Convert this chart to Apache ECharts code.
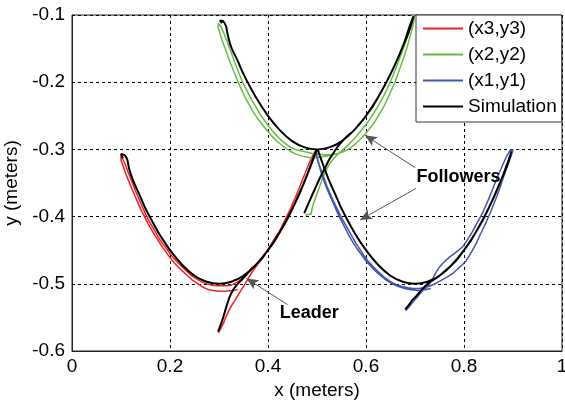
<!DOCTYPE html>
<html>
<head>
<meta charset="utf-8">
<script src="https://cdn.jsdelivr.net/npm/echarts@6/dist/echarts.min.js"></script>
<style>
html,body{margin:0;padding:0;background:#fff;}
#chart{width:565px;height:400px;}
</style>
</head>
<body>
<div id="chart"></div>
<script>
// ---------- data ----------
const seriesNames = ['(x3,y3)', '(x2,y2)', '(x1,y1)', 'Simulation'];
const xTickValues = [0, 0.2, 0.4, 0.6, 0.8, 1];
const xTickLabels = ['0', '0.2', '0.4', '0.6', '0.8', '1'];
const yTickValues = [-0.6, -0.5, -0.4, -0.3, -0.2, -0.1];
const yTickLabels = ['-0.6', '-0.5', '-0.4', '-0.3', '-0.2', '-0.1'];
const xAxisTitle = 'x (meters)';
const yAxisTitle = 'y (meters)';

// measured leader (red)
const measX3 = [
 [0.299,-0.573],[0.304,-0.566],[0.309,-0.559],[0.313,-0.551],[0.318,-0.543],[0.323,-0.536],[0.328,-0.530],[0.333,-0.524],
 [0.338,-0.518],[0.343,-0.512],[0.348,-0.506],[0.353,-0.500],[0.358,-0.494],[0.363,-0.488],[0.368,-0.482],[0.374,-0.476],
 [0.380,-0.470],[0.386,-0.464],[0.392,-0.458],[0.398,-0.451],[0.404,-0.444],[0.410,-0.437],[0.416,-0.430],[0.422,-0.423],
 [0.428,-0.415],[0.434,-0.406],[0.440,-0.397],[0.446,-0.388],[0.452,-0.378],[0.458,-0.368],[0.464,-0.357],[0.470,-0.346],
 [0.476,-0.335],[0.482,-0.324],[0.488,-0.314],[0.494,-0.305],[0.498,-0.302],
 [0.494,-0.311],[0.489,-0.320],[0.484,-0.330],[0.478,-0.341],[0.472,-0.352],[0.466,-0.362],[0.460,-0.372],[0.454,-0.382],
 [0.447,-0.392],[0.440,-0.402],[0.433,-0.411],[0.426,-0.420],[0.419,-0.429],[0.412,-0.437],[0.405,-0.445],[0.398,-0.452],
 [0.390,-0.459],[0.382,-0.466],[0.374,-0.473],[0.366,-0.479],[0.358,-0.485],[0.350,-0.490],[0.342,-0.495],[0.334,-0.499],
 [0.325,-0.502],[0.315,-0.503],[0.305,-0.503],[0.295,-0.503],[0.285,-0.502],[0.275,-0.500],[0.265,-0.497],[0.255,-0.493],
 [0.246,-0.489],[0.237,-0.483],[0.228,-0.477],[0.219,-0.471],[0.210,-0.464],[0.202,-0.457],[0.194,-0.449],[0.186,-0.441],
 [0.178,-0.433],[0.171,-0.424],[0.164,-0.415],[0.157,-0.406],[0.150,-0.396],[0.144,-0.386],[0.138,-0.376],[0.132,-0.366],
 [0.126,-0.355],[0.120,-0.344],[0.114,-0.333],[0.109,-0.323],[0.104,-0.315],[0.100,-0.309],[0.097,-0.308],
 [0.100,-0.316],[0.104,-0.324],[0.108,-0.333],[0.113,-0.342],[0.118,-0.351],[0.123,-0.360],[0.129,-0.370],[0.135,-0.380],
 [0.141,-0.390],[0.148,-0.400],[0.155,-0.410],[0.162,-0.419],[0.169,-0.428],[0.177,-0.437],[0.185,-0.446],[0.193,-0.454],
 [0.201,-0.462],[0.209,-0.469],[0.218,-0.476],[0.227,-0.482],[0.236,-0.488],[0.245,-0.494],[0.255,-0.499],[0.265,-0.504],
 [0.276,-0.508],[0.288,-0.510],[0.300,-0.511],[0.313,-0.511],[0.326,-0.510],[0.338,-0.509]
];

// measured follower 2 (green)
const measX2 = [
 [0.476,-0.398],[0.482,-0.397],[0.488,-0.396],[0.490,-0.388],[0.493,-0.380],[0.497,-0.372],[0.501,-0.364],[0.505,-0.356],
 [0.509,-0.348],[0.513,-0.340],[0.518,-0.332],[0.523,-0.325],[0.529,-0.318],[0.536,-0.312],[0.544,-0.306],[0.552,-0.301],
 [0.560,-0.296],[0.568,-0.290],[0.576,-0.284],[0.584,-0.277],[0.592,-0.270],[0.600,-0.263],[0.607,-0.256],[0.614,-0.248],
 [0.621,-0.240],[0.628,-0.231],[0.635,-0.222],[0.642,-0.212],[0.648,-0.202],[0.654,-0.192],[0.660,-0.181],[0.666,-0.170],
 [0.672,-0.158],[0.678,-0.146],[0.684,-0.133],[0.690,-0.120],[0.695,-0.108],[0.699,-0.100],
 [0.697,-0.112],[0.693,-0.124],[0.688,-0.137],[0.683,-0.150],[0.677,-0.163],[0.671,-0.176],[0.665,-0.188],[0.659,-0.200],
 [0.652,-0.212],[0.645,-0.223],[0.638,-0.234],[0.630,-0.244],[0.622,-0.254],[0.614,-0.263],[0.605,-0.271],[0.596,-0.279],
 [0.587,-0.286],[0.578,-0.292],[0.568,-0.298],[0.558,-0.302],[0.548,-0.305],[0.537,-0.307],[0.526,-0.308],[0.514,-0.308],
 [0.502,-0.307],[0.490,-0.306],[0.478,-0.304],[0.466,-0.302],
 [0.455,-0.300],[0.444,-0.296],[0.433,-0.290],[0.422,-0.283],[0.412,-0.275],[0.402,-0.266],[0.393,-0.257],[0.384,-0.248],
 [0.376,-0.238],[0.368,-0.228],[0.361,-0.218],[0.354,-0.208],[0.347,-0.198],[0.341,-0.187],[0.335,-0.176],[0.329,-0.164],
 [0.323,-0.152],[0.317,-0.140],[0.311,-0.129],[0.305,-0.119],[0.299,-0.112],[0.295,-0.110],
 [0.298,-0.118],[0.302,-0.127],[0.306,-0.137],[0.311,-0.147],[0.316,-0.157],[0.321,-0.167],[0.327,-0.178],[0.333,-0.189],
 [0.339,-0.200],[0.346,-0.211],[0.353,-0.222],[0.361,-0.233],[0.369,-0.243],[0.378,-0.253],[0.388,-0.263],[0.398,-0.272],
 [0.409,-0.281],[0.420,-0.289],[0.432,-0.296],[0.444,-0.302],[0.457,-0.307],[0.470,-0.310],[0.484,-0.312],[0.498,-0.312],
 [0.512,-0.311],[0.526,-0.309],[0.538,-0.307]
];

// measured follower 1 (blue)
const measX1 = [
 [0.681,-0.540],[0.688,-0.534],[0.695,-0.528],[0.702,-0.522],[0.709,-0.516],[0.716,-0.510],[0.723,-0.505],[0.730,-0.500],
 [0.737,-0.491],[0.742,-0.484],[0.748,-0.477],[0.755,-0.471],[0.763,-0.465],[0.771,-0.460],[0.780,-0.455],[0.789,-0.450],
 [0.797,-0.445],[0.804,-0.438],[0.810,-0.431],[0.816,-0.424],[0.822,-0.416],[0.828,-0.408],[0.834,-0.400],[0.840,-0.391],
 [0.846,-0.381],[0.852,-0.371],[0.858,-0.360],[0.864,-0.349],[0.870,-0.338],[0.876,-0.328],[0.882,-0.318],[0.888,-0.309],
 [0.894,-0.302],[0.900,-0.300],
 [0.897,-0.308],[0.892,-0.318],[0.887,-0.328],[0.882,-0.338],[0.877,-0.349],[0.872,-0.360],[0.867,-0.370],[0.861,-0.381],
 [0.855,-0.392],[0.849,-0.402],[0.843,-0.412],[0.837,-0.421],[0.831,-0.430],[0.825,-0.440],[0.818,-0.449],[0.811,-0.458],
 [0.804,-0.466],[0.796,-0.472],[0.787,-0.478],[0.778,-0.484],[0.768,-0.489],[0.758,-0.493],[0.748,-0.497],[0.738,-0.501],
 [0.728,-0.504],[0.718,-0.506],[0.707,-0.507],[0.696,-0.507],[0.685,-0.506],[0.674,-0.504],
 [0.664,-0.502],[0.650,-0.497],[0.637,-0.490],[0.625,-0.482],[0.614,-0.474],[0.604,-0.466],[0.595,-0.457],[0.587,-0.448],
 [0.579,-0.439],[0.572,-0.430],[0.565,-0.421],[0.558,-0.412],[0.551,-0.403],[0.545,-0.394],[0.539,-0.385],[0.533,-0.376],
 [0.527,-0.366],[0.521,-0.356],[0.516,-0.346],[0.511,-0.336],[0.506,-0.326],[0.502,-0.316],[0.499,-0.307],[0.498,-0.302],
 [0.499,-0.309],[0.502,-0.318],[0.506,-0.328],[0.510,-0.338],[0.515,-0.348],[0.520,-0.358],[0.526,-0.368],[0.532,-0.378],
 [0.538,-0.388],[0.544,-0.398],[0.551,-0.408],[0.558,-0.418],[0.565,-0.428],[0.573,-0.438],[0.581,-0.447],[0.590,-0.456],
 [0.599,-0.465],[0.609,-0.473],[0.619,-0.481],[0.630,-0.488],[0.642,-0.495],[0.654,-0.500],[0.666,-0.504],[0.679,-0.507],
 [0.692,-0.509],[0.706,-0.510],[0.720,-0.509],[0.732,-0.507]
];

// simulated trajectories (black)
const simLeader = [
 [0.298,-0.571],[0.304,-0.560],[0.309,-0.549],[0.315,-0.534],[0.322,-0.519],[0.329,-0.509],[0.336,-0.502],[0.345,-0.495],
 [0.353,-0.489],[0.363,-0.480],[0.375,-0.472],[0.388,-0.462],[0.400,-0.450],[0.413,-0.437],[0.425,-0.422],[0.438,-0.406],
 [0.450,-0.388],[0.463,-0.368],[0.475,-0.347],[0.488,-0.323],[0.496,-0.307],[0.499,-0.300],
 [0.493,-0.312],[0.475,-0.347],[0.450,-0.388],[0.425,-0.422],[0.400,-0.450],[0.375,-0.472],[0.350,-0.488],[0.325,-0.497],
 [0.300,-0.500],[0.275,-0.497],[0.250,-0.488],[0.225,-0.472],[0.200,-0.450],[0.188,-0.437],[0.175,-0.422],[0.163,-0.406],
 [0.150,-0.388],[0.138,-0.368],[0.125,-0.347],[0.117,-0.330],[0.113,-0.316],[0.108,-0.309],[0.100,-0.307],[0.104,-0.313]
];
const simF2 = [
 [0.474,-0.395],[0.484,-0.378],[0.495,-0.360],[0.505,-0.344],[0.516,-0.328],[0.525,-0.315],[0.533,-0.306],[0.541,-0.297],
 [0.550,-0.289],[0.562,-0.280],[0.575,-0.272],[0.588,-0.261],[0.600,-0.250],[0.613,-0.237],[0.625,-0.222],[0.638,-0.205],
 [0.650,-0.188],[0.663,-0.168],[0.675,-0.147],[0.688,-0.124],[0.697,-0.102],
 [0.690,-0.115],[0.675,-0.147],[0.650,-0.188],[0.625,-0.222],[0.600,-0.250],[0.575,-0.272],[0.550,-0.288],[0.525,-0.297],
 [0.500,-0.300],[0.475,-0.297],[0.450,-0.288],[0.425,-0.272],[0.400,-0.250],[0.375,-0.222],[0.350,-0.188],[0.338,-0.168],
 [0.325,-0.148],[0.318,-0.130],[0.314,-0.116],[0.308,-0.109],[0.302,-0.108],[0.306,-0.112]
];
const simF1 = [
 [0.680,-0.538],[0.688,-0.531],[0.695,-0.524],[0.703,-0.518],[0.710,-0.512],[0.720,-0.504],[0.731,-0.497],[0.740,-0.493],
 [0.750,-0.488],[0.763,-0.480],[0.775,-0.472],[0.788,-0.462],[0.800,-0.450],[0.813,-0.437],[0.825,-0.422],[0.838,-0.406],
 [0.850,-0.388],[0.863,-0.368],[0.875,-0.347],[0.888,-0.324],[0.897,-0.303],
 [0.890,-0.318],[0.875,-0.347],[0.850,-0.388],[0.825,-0.422],[0.800,-0.450],[0.775,-0.472],[0.750,-0.488],[0.725,-0.497],
 [0.700,-0.500],[0.675,-0.497],[0.650,-0.488],[0.625,-0.472],[0.600,-0.450],[0.575,-0.422],[0.550,-0.388],[0.538,-0.368],
 [0.525,-0.347],[0.513,-0.324],[0.505,-0.308],[0.501,-0.300],[0.504,-0.305]
];

// annotations: arrows [tail, tip] and text labels (data coordinates)
const arrowTails = [[0.700,-0.327],[0.702,-0.358],[0.440,-0.531]];
const arrowTips  = [[0.598,-0.279],[0.588,-0.405],[0.356,-0.492]];
const noteTexts  = ['Followers', 'Leader'];
const noteAnchors = [[0.703,-0.341],[0.424,-0.5435]];

// ---------- chart ----------
const FONT = 'Liberation Sans, Arial, Helvetica, sans-serif';
const chart = echarts.init(document.getElementById('chart'), null, {renderer: 'canvas'});

function lab(values, labels) {
  return function (v) {
    for (let i = 0; i < values.length; i++) if (Math.abs(values[i] - v) < 1e-6) return labels[i];
    return '';
  };
}

function measSeries(name, data, color) {
  return {
    name: name, type: 'line', data: data, symbol: 'none',
    lineStyle: {color: color, width: 1.5}, itemStyle: {color: color},
    clip: true, z: 2, silent: true
  };
}
function simSeries(data) {
  return {
    name: 'Simulation', type: 'line', data: data, symbol: 'none', smooth: 0.3,
    lineStyle: {color: '#000', width: 2}, itemStyle: {color: '#000'},
    clip: true, z: 3, silent: true
  };
}

const arrowData = arrowTails.map((t, i) => [{coord: t}, {coord: arrowTips[i]}]);

const simL = simSeries(simLeader);
simL.markLine = {
  silent: true, symbol: ['none', 'arrow'], symbolSize: [8, 12],
  lineStyle: {color: '#555', width: 1, type: 'solid'},
  label: {show: false}, data: arrowData, animation: false
};

chart.setOption({
  animation: false,
  backgroundColor: '#fff',
  textStyle: {fontFamily: FONT},
  grid: {left: 72, top: 15, right: 3, bottom: 49, containLabel: false, outerBoundsMode: 'none',
         show: true, borderColor: '#222', borderWidth: 1, backgroundColor: 'transparent'},
  legend: {
    data: seriesNames, orient: 'vertical', left: 416, top: 15,
    icon: 'rect', itemWidth: 40, itemHeight: 2,
    padding: [4, 5, 6, 7], itemGap: 7,
    backgroundColor: '#fff', borderColor: '#333', borderWidth: 1,
    textStyle: {fontSize: 19, color: '#000', fontFamily: FONT},
    selectedMode: false
  },
  xAxis: {
    type: 'value', min: 0, max: 1, interval: 0.2,
    name: xAxisTitle, nameLocation: 'middle', nameGap: 30,
    nameTextStyle: {fontSize: 19, color: '#000', fontFamily: FONT},
    axisLine: {show: true, onZero: false, lineStyle: {color: '#222', width: 1}},
    axisTick: {show: false},
    axisLabel: {fontSize: 19, color: '#000', margin: 6, fontFamily: FONT, formatter: lab(xTickValues, xTickLabels)},
    splitLine: {show: true, lineStyle: {color: '#000', width: 1, type: [3, 3]}}
  },
  yAxis: {
    type: 'value', min: -0.6, max: -0.1, interval: 0.1,
    name: yAxisTitle, nameLocation: 'middle', nameGap: 47, nameRotate: 90,
    nameTextStyle: {fontSize: 19, color: '#000', fontFamily: FONT},
    axisLine: {show: true, onZero: false, lineStyle: {color: '#222', width: 1}},
    axisTick: {show: false},
    axisLabel: {fontSize: 19, color: '#000', margin: 7, fontFamily: FONT, formatter: lab(yTickValues, yTickLabels)},
    splitLine: {show: true, lineStyle: {color: '#000', width: 1, type: [3, 3]}}
  },
  series: [
    measSeries(seriesNames[0], measX3, '#ee2222'),
    measSeries(seriesNames[1], measX2, '#66bb44'),
    measSeries(seriesNames[2], measX1, '#4455aa'),
    simL,
    simSeries(simF2),
    simSeries(simF1)
  ]
});

// text annotations placed through the axes
const graphics = noteTexts.map((t, i) => {
  const p = chart.convertToPixel({gridIndex: 0}, noteAnchors[i]);
  return {
    type: 'text', x: p[0], y: p[1], z: 100,
    style: {text: t, fill: '#000', font: 'bold 18px ' + FONT, align: 'left', verticalAlign: 'middle'}
  };
});
chart.setOption({graphic: graphics});
</script>
</body>
</html>
